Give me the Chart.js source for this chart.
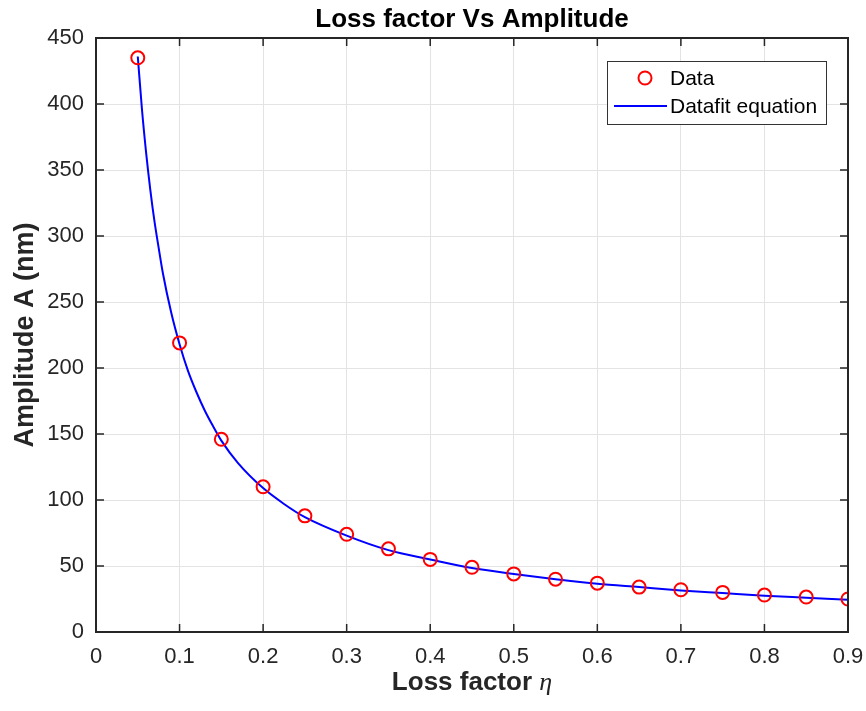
<!DOCTYPE html>
<html>
<head>
<meta charset="utf-8">
<script src="https://cdn.jsdelivr.net/npm/chart.js@4"></script>
<style>
  html, body { margin: 0; padding: 0; background: #fff; }
  #wrap { width: 866px; height: 711px; }
</style>
</head>
<body>
<div id="wrap"><canvas id="lossChart" width="866" height="711"></canvas></div>
<script>
// measured data (loss factor vs amplitude)
const etaData = [0.05, 0.1, 0.15, 0.2, 0.25, 0.3, 0.35, 0.4, 0.45, 0.5, 0.55, 0.6, 0.65, 0.7, 0.75, 0.8, 0.85, 0.9];
const ampData = [435, 219, 146, 110, 88, 74, 63, 55, 49, 44, 40, 37, 34, 32, 30, 28, 26.5, 25];

// datafit curve
const etaFit = [0.05, 0.055, 0.06, 0.065, 0.07, 0.075, 0.08, 0.09, 0.1, 0.11, 0.12, 0.13, 0.14, 0.15, 0.17, 0.2, 0.225, 0.25, 0.3, 0.35, 0.4, 0.45, 0.5, 0.55, 0.6, 0.65, 0.7, 0.75, 0.8, 0.85, 0.9];
const ampFit = [436, 396, 363, 335, 311, 291, 272, 242, 218, 198, 182, 168, 156, 145, 128, 109, 97, 87, 73, 62, 55, 48.5, 44, 40, 36.5, 34, 31.5, 29.5, 27.5, 26, 24.5];

const xTicks = [0, 0.1, 0.2, 0.3, 0.4, 0.5, 0.6, 0.7, 0.8, 0.9];
const yTicks = [0, 50, 100, 150, 200, 250, 300, 350, 400, 450];

const axisColor = '#262626';
const fontFam = '"Liberation Sans", Arial, sans-serif';
const etaFont = 'italic 26px "Liberation Serif", "Times New Roman", serif';

// box, inward ticks, title, x label and legend drawn like the original figure
const matlabBox = {
  id: 'matlabBox',
  afterDraw(chart) {
    const ctx = chart.ctx;
    const a = chart.chartArea;
    const xs = chart.scales.x, ys = chart.scales.y;
    ctx.save();
    ctx.strokeStyle = axisColor;
    ctx.lineWidth = 1.5;
    ctx.beginPath();
    xTicks.forEach(v => {
      const px = xs.getPixelForValue(v);
      ctx.moveTo(px, a.bottom); ctx.lineTo(px, a.bottom - 8);
      ctx.moveTo(px, a.top); ctx.lineTo(px, a.top + 8);
    });
    yTicks.forEach(v => {
      const py = ys.getPixelForValue(v);
      ctx.moveTo(a.left, py); ctx.lineTo(a.left + 8, py);
      ctx.moveTo(a.right, py); ctx.lineTo(a.right - 8, py);
    });
    ctx.stroke();
    ctx.lineWidth = 2;
    ctx.strokeRect(a.left, a.top, a.right - a.left, a.bottom - a.top);

    const cx = (a.left + a.right) / 2;

    // title, centred over the axes
    ctx.fillStyle = '#000';
    ctx.textAlign = 'center';
    ctx.textBaseline = 'alphabetic';
    ctx.font = 'bold 26px ' + fontFam;
    ctx.fillText('Loss factor Vs Amplitude', cx, a.top - 11);

    // x axis label with italic eta
    ctx.fillStyle = axisColor;
    ctx.textAlign = 'left';
    const part1 = 'Loss factor ';
    ctx.font = etaFont;
    const wEta = ctx.measureText('η').width;
    ctx.font = 'bold 26px ' + fontFam;
    const w1 = ctx.measureText(part1).width;
    const x0 = cx - (w1 + wEta) / 2;
    ctx.fillText(part1, x0, a.bottom + 58);
    ctx.font = etaFont;
    ctx.fillText('η', x0 + w1, a.bottom + 58);

    // legend
    const lx = a.right - 241, ly = a.top + 23, lw = 219, lh = 63;
    ctx.fillStyle = '#fff';
    ctx.fillRect(lx, ly, lw, lh);
    ctx.strokeStyle = '#333';
    ctx.lineWidth = 1;
    ctx.strokeRect(lx + 0.5, ly + 0.5, lw, lh);
    ctx.strokeStyle = '#ff0000';
    ctx.lineWidth = 2;
    ctx.beginPath();
    ctx.arc(lx + 38, ly + 17, 6.5, 0, Math.PI * 2);
    ctx.stroke();
    ctx.strokeStyle = '#0000ff';
    ctx.beginPath();
    ctx.moveTo(lx + 7, ly + 45); ctx.lineTo(lx + 60, ly + 45);
    ctx.stroke();
    ctx.fillStyle = '#000';
    ctx.font = '21px ' + fontFam;
    ctx.textBaseline = 'middle';
    ctx.fillText('Data', lx + 63, ly + 18);
    ctx.fillText('Datafit equation', lx + 63, ly + 46);
    ctx.restore();
  }
};

const config = {
  type: 'scatter',
  data: {
    datasets: [
      {
        label: 'Data',
        data: etaData.map((x, i) => ({ x: x, y: ampData[i] })),
        pointStyle: 'circle',
        pointRadius: 6.5,
        pointBorderWidth: 2,
        borderColor: '#ff0000',
        backgroundColor: 'rgba(0,0,0,0)',
        showLine: false,
        order: 1
      },
      {
        label: 'Datafit equation',
        data: etaFit.map((x, i) => ({ x: x, y: ampFit[i] })),
        showLine: true,
        borderColor: '#0000ff',
        borderWidth: 2,
        pointRadius: 0,
        cubicInterpolationMode: 'monotone',
        order: 2
      }
    ]
  },
  options: {
    responsive: false,
    animation: false,
    layout: { padding: { left: 0, right: 18, top: 38, bottom: 35 } },
    plugins: {
      legend: { display: false },
      tooltip: { enabled: false },
      title: { display: false }
    },
    scales: {
      x: {
        type: 'linear',
        min: 0,
        max: 0.9,
        afterBuildTicks: s => { s.ticks = xTicks.map(v => ({ value: v })); },
        afterFit: s => { s.height = 44; s.paddingLeft = 0; s.paddingRight = 0; },
        ticks: {
          color: axisColor,
          font: { family: fontFam, size: 22 },
          padding: 12,
          maxRotation: 0,
          callback: v => String(v)
        },
        grid: { color: '#e3e3e3', lineWidth: 1, drawTicks: false },
        border: { display: false }
      },
      y: {
        type: 'linear',
        min: 0,
        max: 450,
        afterBuildTicks: s => { s.ticks = yTicks.map(v => ({ value: v })); },
        afterFit: s => { s.width = 96; s.paddingTop = 0; s.paddingBottom = 0; },
        ticks: {
          color: axisColor,
          font: { family: fontFam, size: 22 },
          padding: 12
        },
        grid: { color: '#e3e3e3', lineWidth: 1, drawTicks: false },
        border: { display: false },
        title: {
          display: true,
          text: 'Amplitude A (nm)',
          color: axisColor,
          font: { family: fontFam, size: 27, weight: 'bold' },
          padding: { top: 9, bottom: 0 }
        }
      }
    }
  },
  plugins: [matlabBox]
};

const lossChart = new Chart(document.getElementById('lossChart'), config);
</script>
</body>
</html>
